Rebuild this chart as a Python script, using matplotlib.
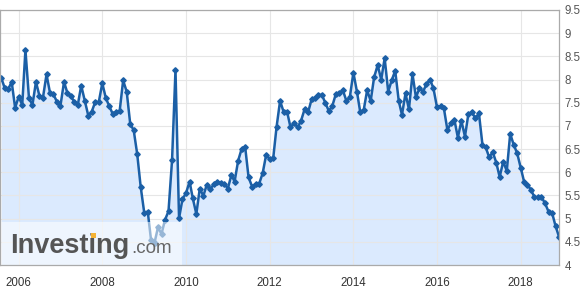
#!/usr/bin/env python3
# monthly rate chart, investing.com style

import pandas as pd
from matplotlib import pyplot as plt
from matplotlib.patches import Rectangle

plt.rcParams['font.family'] = ['Liberation Sans', 'DejaVu Sans']

# monthly values, Aug 2005 .. Dec 2018
values = [
    8.04, 7.82, 7.79, 7.95, 7.39, 7.63, 7.45, 8.64, 7.60, 7.45,
    7.95, 7.65, 7.61, 8.11, 7.72, 7.68, 7.52, 7.44, 7.95, 7.72,
    7.65, 7.52, 7.45, 7.87, 7.54, 7.22, 7.31, 7.52, 7.51, 7.92,
    7.60, 7.43, 7.26, 7.29, 7.33, 7.98, 7.74, 7.04, 6.91, 6.39,
    5.69, 5.13, 5.15, 4.55, 4.48, 4.81, 4.67, 4.97, 5.16, 6.26,
    8.21, 5.01, 5.42, 5.55, 5.80, 5.44, 5.10, 5.65, 5.49, 5.73,
    5.63, 5.75, 5.80, 5.76, 5.75, 5.65, 5.94, 5.80, 6.25, 6.50,
    6.55, 5.89, 5.69, 5.75, 5.75, 5.98, 6.37, 6.29, 6.30, 6.97,
    7.54, 7.31, 7.31, 6.97, 7.06, 6.97, 7.11, 7.36, 7.29, 7.57,
    7.60, 7.67, 7.67, 7.50, 7.32, 7.43, 7.69, 7.70, 7.77, 7.54,
    7.62, 8.15, 7.74, 7.31, 7.34, 7.77, 7.54, 8.05, 8.31, 8.00,
    8.46, 7.74, 7.98, 8.19, 7.54, 7.24, 7.70, 7.36, 8.12, 7.62,
    7.81, 7.74, 7.90, 8.00, 7.81, 7.40, 7.43, 7.38, 6.91, 7.06,
    7.13, 6.75, 7.11, 6.77, 7.26, 7.29, 7.17, 7.27, 6.59, 6.54,
    6.32, 6.44, 6.21, 5.90, 6.23, 6.03, 6.83, 6.59, 6.41, 6.09,
    5.78, 5.73, 5.62, 5.46, 5.46, 5.47, 5.33, 5.15, 5.13, 4.84,
    4.61,
]
dates = pd.date_range('2005-08-01', periods=len(values), freq='MS')

year_ticks = pd.to_datetime(['2006-01-01', '2008-01-01', '2010-01-01', '2012-01-01',
                             '2014-01-01', '2016-01-01', '2018-01-01'])
year_labels = ['2006', '2008', '2010', '2012', '2014', '2016', '2018']
y_ticks = [4, 4.5, 5, 5.5, 6, 6.5, 7, 7.5, 8, 8.5, 9, 9.5]
y_labels = ['4', '4.5', '5', '5.5', '6', '6.5', '7', '7.5', '8', '8.5', '9', '9.5']

W, H = 585, 293
fig = plt.figure(figsize=(W / 100, H / 100), dpi=100)
ax = fig.add_axes([0 / W, 1 - 265 / H, 559 / W, 255 / H])

line_c = '#1b5fa6'
ax.fill_between(dates, values, 4, color='#dbeafe', zorder=1, lw=0)
ax.plot(dates, values, color=line_c, lw=1.8, marker='D', ms=2.8, zorder=3)

ax.set_ylim(4, 9.5)
ax.set_xlim(pd.Timestamp('2005-07-22'), dates[-1])
ax.set_yticks(y_ticks)
ax.set_yticklabels(y_labels)
ax.set_xticks(year_ticks)
ax.set_xticklabels(year_labels)
ax.yaxis.tick_right()
ax.tick_params(length=0, labelsize=8.3)
ax.tick_params(axis='y', pad=4, colors='#555555')
ax.tick_params(axis='x', pad=9, colors='#333333')
ax.grid(True, color='#e6e6e6', lw=0.8, zorder=2)
ax.set_axisbelow(False)
for s in ax.spines.values():
    s.set_color('#aaaaaa')
    s.set_linewidth(0.9)
    s.set_zorder(5)

# watermark
ax.add_patch(Rectangle((0, 0), 182 / 559, 43 / 255, transform=ax.transAxes,
                       facecolor='white', alpha=0.55, lw=0, zorder=4))
fig.text(10 / W, 1 - 253 / H, 'Investing', fontsize=19.5, fontweight='bold',
         color='#555555', zorder=6)
fig.text(131 / W, 1 - 253 / H, '.com', fontsize=13.5, color='#666666', zorder=6)
fig.patches.append(Rectangle((90.5 / W, 1 - 238 / H), 5 / W, 5 / H,
                             transform=fig.transFigure, facecolor='#f5b335', lw=0, zorder=7))

fig.savefig('out.png', dpi=100)
